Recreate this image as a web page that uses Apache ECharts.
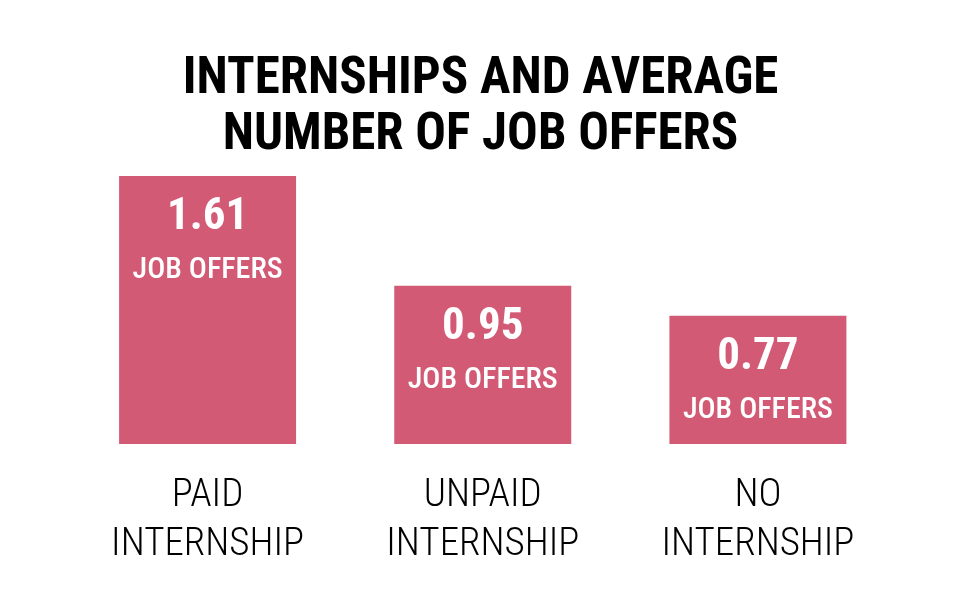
<!DOCTYPE html><html><head><meta charset="utf-8"><script src="https://cdn.jsdelivr.net/npm/echarts@6/dist/echarts.min.js"></script></head><body style="margin:0;background:#fff"><div id="c" style="width:961px;height:600px"></div><script>
var titleText = 'INTERNSHIPS AND AVERAGE\nNUMBER OF JOB OFFERS';
var categories = ['PAID\nINTERNSHIP', 'UNPAID\nINTERNSHIP', 'NO\nINTERNSHIP'];
var offers = [1.61, 0.95, 0.77];
var unitLabel = 'JOB OFFERS';
var FONT = '"Roboto Condensed", "Open Sans Condensed", "Liberation Sans Narrow", sans-serif';
var c = echarts.init(document.getElementById('c'));
c.setOption({
  backgroundColor: '#ffffff',
  animation: false,
  title: {
    text: titleText,
    left: 'center', top: 47,
    textStyle: { fontFamily: FONT, fontWeight: 'bold', fontSize: 51, lineHeight: 56, color: '#000' }
  },
  grid: { left: 70, right: 65.5, top: 111, bottom: 156 },
  xAxis: {
    type: 'category', data: categories,
    axisLine: { show: false }, axisTick: { show: false },
    axisLabel: { margin: 28, fontFamily: FONT, fontSize: 39, lineHeight: 49, color: '#000', fontWeight: 300 }
  },
  yAxis: { type: 'value', min: 0, max: 2, show: false, splitLine: { show: false } },
  series: [{
    type: 'bar', data: offers, barWidth: 177,
    itemStyle: { color: '#D35A75' },
    label: {
      show: true, position: 'insideTop', distance: 11,
      formatter: function (p) { return '{n|' + p.value.toFixed(2) + '}\n{u|' + unitLabel + '}'; },
      rich: {
        n: { fontFamily: FONT, fontWeight: 'bold', fontSize: 45, lineHeight: 61, color: '#fff' },
        u: { fontFamily: FONT, fontWeight: 500, fontSize: 30, lineHeight: 45, color: '#fff' }
      }
    }
  }]
});
</script></body></html>
